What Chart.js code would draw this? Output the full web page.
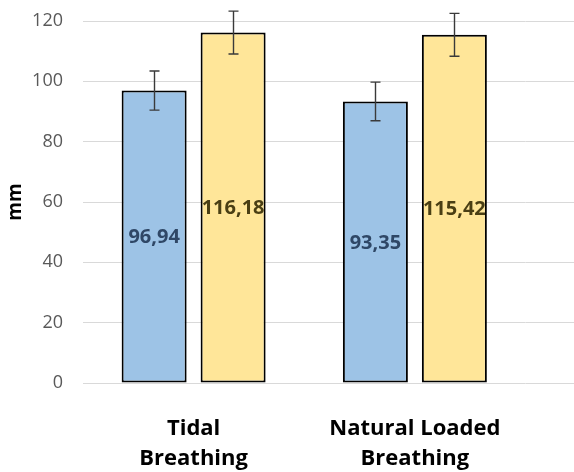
<!DOCTYPE html>
<html>
<head>
<meta charset="utf-8">
<script src="https://cdn.jsdelivr.net/npm/chart.js@4/dist/chart.umd.min.js"></script>
<style>
  html, body { margin: 0; padding: 0; background: #fff; }
  #wrap { width: 574px; height: 472px; }
</style>
</head>
<body>
<div id="wrap"><canvas id="chart"></canvas></div>
<script>
// Data
const categories = [['Tidal', 'Breathing'], ['Natural Loaded', 'Breathing']];
const blueValues = [96.94, 93.35];
const yellowValues = [116.18, 115.42];
const blueErrors = [6.5, 6.4];
const yellowErrors = [7.1, 7.1];
const yTicks = [0, 20, 40, 60, 80, 100, 120];

const FONT = "'Open Sans', sans-serif";

// Extend the horizontal gridlines to the right edge of the canvas
const gridExtend = {
  id: 'gridExtend',
  beforeDatasetsDraw(chart) {
    const { ctx, chartArea } = chart;
    const y = chart.scales.y;
    ctx.save();
    ctx.strokeStyle = '#d9d9d9';
    ctx.lineWidth = 1;
    yTicks.forEach(v => {
      const py = Math.round(y.getPixelForValue(v) - 0.5) + 0.5;
      ctx.beginPath();
      ctx.moveTo(chartArea.right, py);
      ctx.lineTo(chart.width, py);
      ctx.stroke();
    });
    ctx.restore();
  }
};

// Error bars and value labels
const errorBars = {
  id: 'errorBars',
  afterDatasetsDraw(chart) {
    const { ctx } = chart;
    const y = chart.scales.y;
    const errs = [blueErrors, yellowErrors];
    const labelColors = ['#2f4766', '#4a3f14'];
    chart.data.datasets.forEach((ds, di) => {
      const meta = chart.getDatasetMeta(di);
      meta.data.forEach((bar, i) => {
        const v = ds.data[i];
        const e = errs[di][i];
        const top = y.getPixelForValue(v + e);
        const bot = y.getPixelForValue(v - e);
        const x = Math.round(bar.x) + 0.5;
        ctx.save();
        ctx.strokeStyle = '#3a3a3a';
        ctx.lineWidth = 1.4;
        ctx.beginPath();
        ctx.moveTo(x, top); ctx.lineTo(x, bot);
        ctx.moveTo(x - 5, top); ctx.lineTo(x + 5, top);
        ctx.moveTo(x - 5, bot); ctx.lineTo(x + 5, bot);
        ctx.stroke();

        // value label, centred in the bar
        ctx.fillStyle = labelColors[di];
        ctx.font = 'bold 20px ' + FONT;
        ctx.textAlign = 'center';
        ctx.textBaseline = 'middle';
        ctx.fillText(v.toFixed(2).replace('.', ','), bar.x, (bar.y + bar.base) / 2 + 1);
        ctx.restore();
      });
    });
  }
};

new Chart(document.getElementById('chart'), {
  type: 'bar',
  data: {
    labels: categories,
    datasets: [
      {
        label: 'A',
        data: blueValues,
        backgroundColor: '#9dc3e6',
        borderColor: '#000',
        borderWidth: 2,
        borderSkipped: false
      },
      {
        label: 'B',
        data: yellowValues,
        backgroundColor: '#ffe699',
        borderColor: '#000',
        borderWidth: 2,
        borderSkipped: false
      }
    ]
  },
  options: {
    responsive: true,
    maintainAspectRatio: false,
    animation: false,
    layout: { padding: { top: 21, right: 48.5, bottom: 0, left: 0 } },
    datasets: {
      bar: { categoryPercentage: 0.714, barPercentage: 0.823 }
    },
    scales: {
      x: {
        grid: { display: false },
        border: { display: false },
        ticks: {
          color: '#000',
          padding: 22,
          font: { family: FONT, size: 22, weight: 'bold', lineHeight: 1.4 }
        },
        afterFit: s => { s.height = 89; }
      },
      y: {
        min: 0,
        max: 120,
        afterBuildTicks: s => { s.ticks = yTicks.map(v => ({ value: v })); },
        grid: { color: '#d9d9d9', drawTicks: false },
        border: { display: false },
        ticks: {
          color: '#595959',
          padding: 20,
          font: { family: FONT, size: 18 }
        },
        title: {
          display: true,
          text: 'mm',
          color: '#000',
          font: { family: FONT, size: 19, weight: 'bold' }
        },
        afterFit: s => {
          s.width = 83;
          // tick padding would otherwise push the plot top down
          s.paddingTop = 0;
          s.paddingBottom = 0;
        }
      }
    },
    plugins: {
      legend: { display: false },
      tooltip: { enabled: false }
    }
  },
  plugins: [gridExtend, errorBars]
});
</script>
</body>
</html>
